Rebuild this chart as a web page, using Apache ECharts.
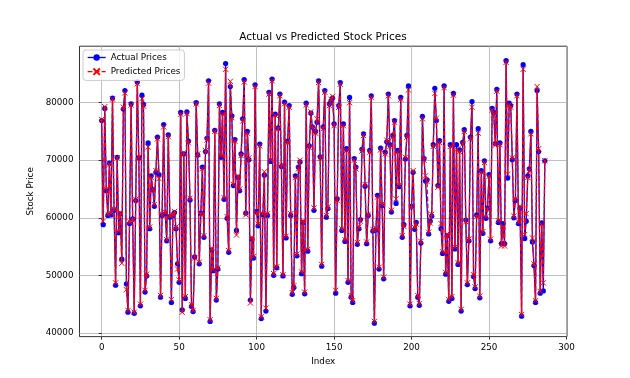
<!DOCTYPE html>
<html><head><meta charset="utf-8">
<style>html,body{margin:0;padding:0;background:#fff}#c{width:630px;height:378px}</style>
<script src="https://cdn.jsdelivr.net/npm/echarts@6/dist/echarts.min.js"></script>
</head><body><div id="c"></div>
<script>
const xTicks = [0, 50, 100, 150, 200, 250, 300];
const yTicks = [40000, 50000, 60000, 70000, 80000];
const actualPrices = [
76900,58800,79000,64700,60400,69500,60500,80800,61300,48300,
70500,57400,60700,52800,78900,82100,48500,43600,59000,79800,
59800,43400,63000,83600,70400,44700,81300,79700,47100,49900,
73000,58100,67300,64900,62000,67900,74000,67500,46200,60400,
76200,60700,56000,74400,60100,45300,60400,60900,58100,52000,
48800,78300,44000,71100,46000,78400,73300,63100,44600,43700,
53200,80000,70900,52000,60800,68800,56600,71500,73800,83800,
42000,54400,50800,75200,45700,51100,79800,70500,78300,63200,
86800,59900,54000,82800,77700,65600,73600,57800,67000,64700,
71100,77200,84000,60800,75000,70100,45700,56300,53000,83100,
61100,58600,72800,42500,60500,67400,43800,60400,81800,69800,
84100,50000,78000,51300,75600,81500,68900,49900,80100,56500,
73300,79500,60400,46700,47900,67300,53400,68800,69700,50300,
59200,46800,79900,54200,72500,78200,75800,61300,75000,76600,
83800,70600,51600,75800,82100,60100,61600,79800,80300,80800,
76300,46900,63300,79500,83500,57800,76300,55900,72000,48800,
80900,46200,45300,70300,68800,55400,58100,59700,71900,74600,
65500,55500,60400,71700,81200,57700,41700,57900,63900,51100,
72100,62100,49400,71400,73200,81500,72700,61000,74300,76900,
62500,71700,65400,80900,56600,58800,70200,74300,82900,44700,
62000,67900,58000,59200,46200,44800,55600,77600,70300,66400,
66600,57200,59400,60300,72700,82500,76900,65600,73400,58100,
53800,82900,50200,56900,45500,72700,46000,81600,54600,72700,
51900,71800,43800,73100,75300,59600,48400,56000,74000,80200,
49800,47700,60500,75500,46100,68200,57300,69900,59900,61700,
67500,56000,79000,78300,72900,82300,59200,73000,55500,59000,
55500,87300,66900,79900,79500,70100,60000,63000,81500,59000,
61700,42900,86600,56400,59400,67300,68500,75000,55800,51700,
45300,82100,71500,46900,59100,47300,69900];
const predictedPrices = [
77100,59400,79300,65000,60600,69300,60800,80600,61500,48700,
70400,57700,60900,52100,79200,81700,47500,43900,59300,79600,
59600,43600,63200,83300,70500,45000,80700,79400,47400,50200,
72300,58400,67000,65100,62300,68200,73700,66800,46500,60600,
75800,61000,56200,74100,60300,45800,60600,61100,58400,51100,
49200,78000,43600,71300,46300,78100,73000,63400,44900,43900,
53000,79800,71100,52300,60600,68500,56900,71700,73500,83400,
42300,54700,51000,75000,46000,51300,79500,70800,78000,63500,
85800,60200,54300,83700,77400,65800,73300,57000,67300,65000,
70800,76800,83600,60500,74700,70400,45200,56600,53300,82800,
60800,58900,72500,42800,60700,68000,44300,60700,81500,70100,
83800,50300,77800,51500,75400,81200,69200,50100,79800,56800,
73000,79200,60700,47000,48200,67000,53700,68500,70000,50600,
59500,47100,79600,54500,72200,78400,75500,61700,74700,77200,
83500,70300,51900,75500,81800,60400,61900,79500,80600,81100,
76000,47400,63000,79200,83200,58100,76000,56200,71700,49100,
80000,46500,45600,70000,68500,55700,58400,59400,71600,74300,
65800,55800,60600,71400,80900,58000,42000,58200,63600,51400,
71800,62400,49700,71100,73500,81200,72400,61300,74000,76600,
63300,71400,65700,80600,56900,58500,70500,74000,82200,45000,
61700,68200,58300,58900,46500,45100,55900,77200,70000,67300,
66300,57500,59100,60600,72400,81600,77300,65300,73100,59000,
54100,82600,50500,57200,45800,72400,46300,81300,54900,71900,
52200,71500,44100,72800,75000,59300,48700,56300,73700,79200,
50100,48000,60200,74700,46400,67900,57600,69600,60200,61400,
67200,56300,78700,77900,72600,82000,59500,72700,55100,58500,
55100,87000,67600,79600,79200,70400,60300,63300,81200,59300,
62000,43200,85800,57100,60700,67000,68200,74600,56500,52000,
45600,82800,72000,47200,58800,48700,69900];

const chart = echarts.init(document.getElementById('c'), null, {renderer:'canvas'});
const FF = '"DejaVu Sans"';
const toPairs = a => a.map((v,i)=>[i,v]);
const CROSS = 'path://M0 0L10 10M10 0L0 10';
chart.setOption({
  animation:false,
  backgroundColor:'#fff',
  title:{text:'Actual vs Predicted Stock Prices',left:323,top:32,textAlign:'center',padding:0,
    textStyle:{fontFamily:FF,fontSize:10.5,fontWeight:'normal',color:'#000'}},
  legend:{left:83,top:50,orient:'vertical',padding:[3,4,3,4],itemGap:4,itemWidth:18,itemHeight:8,
    backgroundColor:'rgba(255,255,255,0.8)',borderColor:'#ccc',borderWidth:1,borderRadius:3,
    lineStyle:{width:1.3},
    textStyle:{fontFamily:FF,fontSize:8.75,color:'#000'},
    data:['Actual Prices','Predicted Prices']},
  grid:{left:79.5,top:46.2,width:487.5,height:290.4,show:true,borderColor:'#000',borderWidth:0.8,containLabel:false},
  xAxis:{type:'value',min:-14.3,max:300.3,
    name:'Index',nameLocation:'middle',nameGap:14,
    nameTextStyle:{fontFamily:FF,fontSize:8.75,color:'#000'},
    axisLine:{show:false},
    axisTick:{show:true,length:3,lineStyle:{color:'#000',width:0.8},customValues:xTicks},
    axisLabel:{fontFamily:FF,fontSize:8.75,color:'#000',margin:7,customValues:xTicks,formatter:v=>String(v)},
    splitLine:{show:true,lineStyle:{color:'#b0b0b0',width:0.8}}},
  yAxis:{type:'value',min:39360,max:89810,
    name:'Stock Price',nameLocation:'middle',nameGap:34,
    nameTextStyle:{fontFamily:FF,fontSize:8.75,color:'#000'},
    axisLine:{show:false},
    axisTick:{show:true,length:3,lineStyle:{color:'#000',width:0.8},customValues:yTicks},
    axisLabel:{fontFamily:FF,fontSize:8.75,color:'#000',margin:6,customValues:yTicks,formatter:v=>String(v)},
    splitLine:{show:true,lineStyle:{color:'#b0b0b0',width:0.8}}},
  series:[
    {name:'Actual Prices',type:'line',z:3,data:toPairs(actualPrices),symbol:'circle',symbolSize:5.25,showAllSymbol:true,
      lineStyle:{color:'#0000ff',width:1.3},itemStyle:{color:'#0000ff'}},
    {name:'Predicted Prices',type:'line',z:4,data:toPairs(predictedPrices),symbol:CROSS,symbolSize:5.25,showAllSymbol:true,
      lineStyle:{color:'#ff0000',width:1.3,type:[4.9,2.1]},
      itemStyle:{color:'none',borderColor:'#ff0000',borderWidth:1}}
  ]
});
</script></body></html>
